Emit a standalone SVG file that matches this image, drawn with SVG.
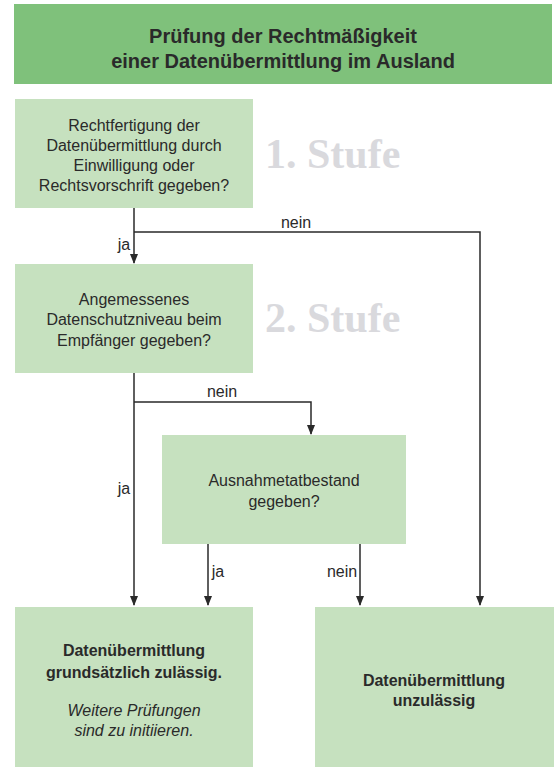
<svg xmlns="http://www.w3.org/2000/svg" width="557" height="767" viewBox="0 0 557 767">
<style>
.hdr{fill:#7fc17b}
.box{fill:#c6e1bf}
text{font-family:"Liberation Sans",Arial,sans-serif;fill:#2a2a2a;text-anchor:middle}
.t{font-size:16px}
.b{font-size:16px;font-weight:bold}
.i{font-size:16px;font-style:italic}
.h{font-size:20px;font-weight:bold}
.stufe{font-family:"Liberation Serif","Times New Roman",serif;font-size:42px;font-weight:bold;fill:#d9d9dd;text-anchor:start}
.lbl{font-size:16px;fill:#2a2a2a}
.c{fill:none;stroke:#2a2a2a;stroke-width:1.5}
</style>
<defs>
<marker id="arr" markerWidth="10" markerHeight="10" refX="9" refY="5" orient="auto" markerUnits="userSpaceOnUse">
<path d="M0,1 L10,5 L0,9 Z" fill="#2a2a2a"/>
</marker>
</defs>
<rect width="557" height="767" fill="#ffffff"/>
<g id="header">
<rect class="hdr" x="14" y="4" width="538" height="80"/>
<text class="h" x="283" y="43">Prüfung der Rechtmäßigkeit</text>
<text class="h" x="283" y="68">einer Datenübermittlung im Ausland</text>
</g>
<g id="stufe1">
<text class="stufe" x="265" y="168">1. Stufe</text>
</g>
<g id="stufe2">
<text class="stufe" x="265" y="332">2. Stufe</text>
</g>
<g id="q1">
<rect class="box" x="15" y="99" width="238" height="109"/>
<text class="t" x="134" y="131">Rechtfertigung der</text>
<text class="t" x="134" y="151">Datenübermittlung durch</text>
<text class="t" x="134" y="171">Einwilligung oder</text>
<text class="t" x="134" y="191">Rechtsvorschrift gegeben?</text>
</g>
<g id="q2">
<rect class="box" x="15" y="264" width="238" height="109"/>
<text class="t" x="134" y="305">Angemessenes</text>
<text class="t" x="134" y="325">Datenschutzniveau beim</text>
<text class="t" x="134" y="346">Empfänger gegeben?</text>
</g>
<g id="q3">
<rect class="box" x="162" y="435" width="244" height="109"/>
<text class="t" x="284" y="486">Ausnahmetatbestand</text>
<text class="t" x="284" y="507">gegeben?</text>
</g>
<g id="ok">
<rect class="box" x="15" y="607" width="238" height="160"/>
<text class="b" x="134" y="656">Datenübermittlung</text>
<text class="b" x="134" y="678">grundsätzlich zulässig.</text>
<text class="i" x="134" y="716">Weitere Prüfungen</text>
<text class="i" x="134" y="736">sind zu initiieren.</text>
</g>
<g id="nok">
<rect class="box" x="315" y="607" width="239" height="160"/>
<text class="b" x="434" y="686">Datenübermittlung</text>
<text class="b" x="434" y="706">unzulässig</text>
</g>
<g id="connectors">
<path class="c" d="M134,208 V263" marker-end="url(#arr)"/>
<path class="c" d="M134,232 H480 V605" marker-end="url(#arr)"/>
<path class="c" d="M134,373 V605" marker-end="url(#arr)"/>
<path class="c" d="M134,402 H311 V434" marker-end="url(#arr)"/>
<path class="c" d="M208,544 V605" marker-end="url(#arr)"/>
<path class="c" d="M360,544 V605" marker-end="url(#arr)"/>
<text class="lbl" x="296" y="228">nein</text>
<text class="lbl" x="124" y="250">ja</text>
<text class="lbl" x="222" y="397">nein</text>
<text class="lbl" x="124" y="494">ja</text>
<text class="lbl" x="218" y="577">ja</text>
<text class="lbl" x="342" y="577">nein</text>
</g>
</svg>
